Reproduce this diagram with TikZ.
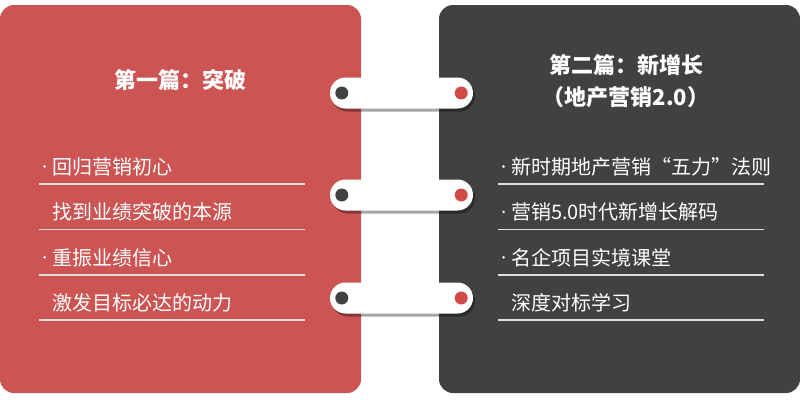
\documentclass[tikz,border=0pt]{standalone}
\usepackage{fontspec}
\newfontfamily\cjk{Noto Sans CJK SC}
\definecolor{Brick}{RGB}{204, 84, 82}
\definecolor{Charcoal}{RGB}{65, 65, 65}
\definecolor{DotRed}{RGB}{208, 75, 72}
\definecolor{RuleGray}{RGB}{226, 220, 220}
\usetikzlibrary{positioning, shapes.misc, shadows}
\tikzset{
  panel/.style={draw=none, rectangle, rounded corners=14pt, minimum width=361pt, minimum height=388pt},
  heading/.style={text=white, align=center, font=\cjk\bfseries\fontsize{22}{32}\selectfont},
  item/.style={text=white, text width=260pt, inner xsep=3pt, inner ysep=0pt, minimum height=34pt, align=left, font=\cjk\fontsize{20}{24}\selectfont},
  rule/.style={draw=RuleGray, line width=1.5pt},
  pill/.style={rounded rectangle, fill=white, minimum width=143pt, minimum height=31pt, inner sep=0pt,
    drop shadow={shadow xshift=2pt, shadow yshift=-3pt, opacity=0.35, fill=black}},
  dot/.style={circle, minimum size=13pt, inner sep=0pt}
}
\newcommand{\pt}{\makebox[10pt][l]{\hspace*{1pt}\raisebox{6.5pt}{\tikz\fill[white] (0,0) circle (1.4pt);}}}
\newcommand{\nopt}{\hspace*{10pt}}
\begin{document}
\begin{tikzpicture}[x=1pt, y=-1pt]
  \useasboundingbox (0,0) rectangle (800,408);
  \node[panel, fill=Brick] (lp) at (180.5,199) {};
  \node[panel, fill=Charcoal] (rp) at (619.5,199) {};

  \node[heading] (lt) at (180.5,80) {第一篇：突破};
  \node[heading] (rt) at (626,81) {第二篇：新增长\\（地产营销2.0）};

  \node[item, anchor=south west] (l1) at (39,184) {\pt 回归营销初心};
  \node[item, below=11pt of l1] (l2) {\nopt 找到业绩突破的本源};
  \node[item, below=11pt of l2] (l3) {\pt 重振业绩信心};
  \node[item, below=11pt of l3] (l4) {\nopt 激发目标必达的动力};

  \node[item, anchor=south west] (r1) at (498,184) {\pt 新时期地产营销“五力”法则};
  \node[item, below=11pt of r1] (r2) {\pt 营销5.0时代新增长解码};
  \node[item, below=11pt of r2] (r3) {\pt 名企项目实境课堂};
  \node[item, below=11pt of r3] (r4) {\nopt 深度对标学习};

  \foreach \n in {l1,l2,l3,l4,r1,r2,r3,r4}
    \draw[rule] (\n.south west) -- (\n.south east);

  \foreach \i/\y in {1/93, 2/195, 3/298} {
    \node[pill] (p\i) at (401.5,\y) {};
    \node[dot, fill=Charcoal, right=12pt of p\i.west, anchor=center] (pl\i) {};
    \node[dot, fill=DotRed, left=12pt of p\i.east, anchor=center] (pr\i) {};
  }
\end{tikzpicture}
\end{document}
